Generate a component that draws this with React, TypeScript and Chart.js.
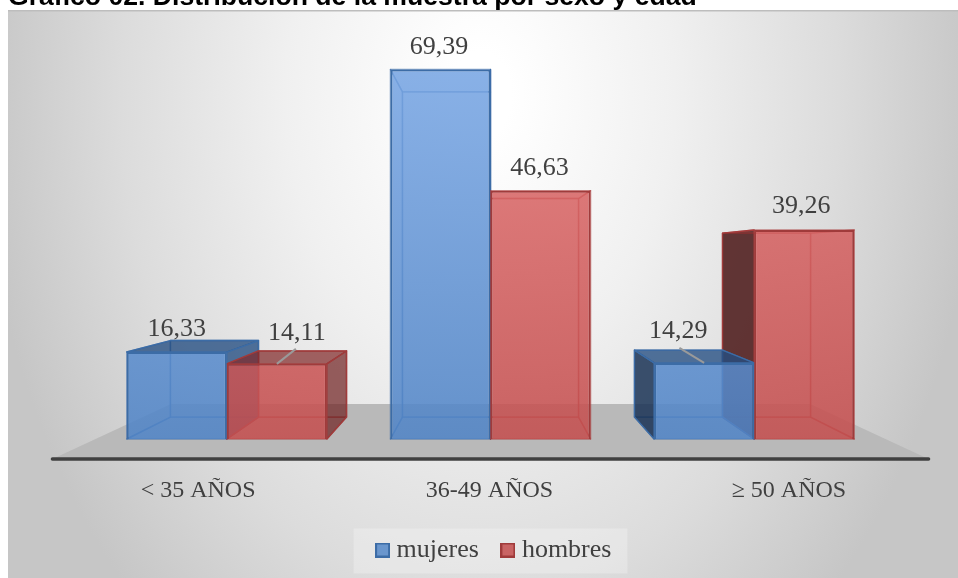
import { useEffect, useRef } from "react";
import { Chart, registerables } from "chart.js";

Chart.register(...registerables);

const categories = ["< 35 AÑOS", "36-49 AÑOS", "≥ 50 AÑOS"];
const mujeres = [16.33, 69.39, 14.29];
const hombres = [14.11, 46.63, 39.26];
const chartTitle = "Gráfico 02. Distribución de la muestra por sexo y edad";

// Label nudges (dx, dy) from the front top-centre of each bar, per series.
const mujeresLabelNudge = [[0, -23], [-1.5, -22], [-26, -32]];
const hombresLabelNudge = [[20, -31], [-1, -23], [-3, -24]];
const tickLabelNudge = [0, -1, 6];
// Bars whose label is tied back to the bar by a short leader: [series, category].
const ledBars = [[1, 0], [0, 2]];

const SERIF = '"Liberation Serif", serif';
const INK = "#404040";

// Perspective of the fake 3D boxes.
const BACK_SCALE = 0.88;
const HORIZON_VALUE = 34.3;
const FLOOR_FRONT = 1.109;
const FLOOR_BACK = 0.809;
const FLOOR_HALF_WIDTH = 395;
const LEGEND_SHIFT = 6;

const palette = {
  mujeres: {
    edge: "#3c6ca6",
    inner: "rgba(62,108,168,0.62)",
    tint: "rgba(80,130,195,0.12)",
    outerLeft: "rgba(22,46,80,0.82)",
    outerRight: "rgba(36,76,128,0.76)",
    outerTop: "rgba(36,76,128,0.76)",
    front: ["rgba(120,166,228,0.85)", "rgba(80,132,198,0.85)"],
    swatch: "#6a96cd",
  },
  hombres: {
    edge: "#a03b3b",
    inner: "rgba(170,60,60,0.6)",
    tint: "rgba(200,80,80,0.12)",
    outerLeft: "rgba(72,22,22,0.84)",
    outerRight: "rgba(105,28,28,0.66)",
    outerTop: "rgba(125,38,38,0.68)",
    front: ["rgba(226,112,112,0.85)", "rgba(196,78,78,0.85)"],
    swatch: "#c96464",
  },
};
const seriesStyles = [palette.mujeres, palette.hombres];

function verticalFill(chart: any, stops: string[]) {
  const area = chart.chartArea;
  if (!area) return stops[1];
  const g = chart.ctx.createLinearGradient(0, area.top + 55, 0, area.bottom);
  g.addColorStop(0, stops[0]);
  g.addColorStop(1, stops[1]);
  return g;
}

function makeSwatch(fill: string, edge: string) {
  const c = document.createElement("canvas");
  c.width = 15;
  c.height = 15;
  const x = c.getContext("2d")!;
  x.fillStyle = fill;
  x.fillRect(0, 0, 15, 15);
  x.strokeStyle = edge;
  x.lineWidth = 2;
  x.strokeRect(1, 1, 13, 13);
  return c;
}

function poly(ctx: CanvasRenderingContext2D, pts: number[][], fill?: string, stroke?: string, width = 1.4) {
  ctx.beginPath();
  pts.forEach(([x, y], i) => (i ? ctx.lineTo(x, y) : ctx.moveTo(x, y)));
  ctx.closePath();
  if (fill) {
    ctx.fillStyle = fill;
    ctx.fill();
  }
  if (stroke) {
    ctx.strokeStyle = stroke;
    ctx.lineWidth = width;
    ctx.lineJoin = "round";
    ctx.stroke();
  }
}

// Paints wall and floor of the scene, then the receding faces of each bar.
const scene3d = {
  id: "scene3d",
  afterLayout(chart: any) {
    // The legend sits a little right of the centre of the padded box.
    const legend = chart.legend;
    legend.left += LEGEND_SHIFT;
    legend.right += LEGEND_SHIFT;
    legend.legendHitBoxes.forEach((b: any) => {
      b.left += LEGEND_SHIFT;
    });
  },
  beforeDraw(chart: any) {
    const { ctx, width, height } = chart;
    ctx.save();
    ctx.beginPath();
    ctx.rect(8, 10, width - 8, height - 10);
    ctx.clip();
    ctx.translate(480, 95);
    ctx.scale(0.78, 1.09);
    const g = ctx.createRadialGradient(0, 0, 40, 0, 0, 640);
    g.addColorStop(0, "#ffffff");
    g.addColorStop(0.35, "#f0f0f0");
    g.addColorStop(0.7, "#dcdcdc");
    g.addColorStop(1, "#c6c6c6");
    ctx.fillStyle = g;
    ctx.fillRect(-800, -200, 1600, 700);
    ctx.restore();
    ctx.fillStyle = "#bdbdbd";
    ctx.fillRect(8, 10, width - 8, 1.5);

    // Pale panel behind the legend entries.
    const boxes = chart.legend?.legendHitBoxes;
    if (boxes?.length) {
      const left = boxes[0].left;
      const last = boxes[boxes.length - 1];
      const right = last.left + last.width;
      const cy = boxes[0].top + boxes[0].height / 2;
      ctx.fillStyle = "rgba(255,255,255,0.26)";
      ctx.fillRect(left - 28, cy - 21.5, right - left + 44, 45);
    }
  },
  beforeDatasetsDraw(chart: any) {
    const { ctx } = chart;
    const xs = chart.scales.x;
    const ys = chart.scales.y;
    const vx = xs.getPixelForTick(1);
    const vy = ys.getPixelForValue(HORIZON_VALUE);
    const base = ys.getPixelForValue(0);
    const proj = (x: number, y: number, s = BACK_SCALE) => [vx + s * (x - vx), vy + s * (y - vy)];

    const fy = vy + FLOOR_FRONT * (base - vy);
    const by = vy + FLOOR_BACK * (base - vy);
    ctx.save();
    poly(ctx, [
      [vx - FLOOR_BACK * FLOOR_HALF_WIDTH, by],
      [vx + FLOOR_BACK * FLOOR_HALF_WIDTH, by],
      [vx + FLOOR_FRONT * FLOOR_HALF_WIDTH, fy],
      [vx - FLOOR_FRONT * FLOOR_HALF_WIDTH, fy],
    ], "#b9b9b9");

    ctx.strokeStyle = "#404040";
    ctx.lineWidth = 3.5;
    ctx.lineCap = "round";
    ctx.beginPath();
    ctx.moveTo(vx - FLOOR_FRONT * FLOOR_HALF_WIDTH, fy);
    ctx.lineTo(vx + FLOOR_FRONT * FLOOR_HALF_WIDTH, fy);
    ctx.stroke();

    categories.forEach((_, c) => {
      const boxes = [0, 1]
        .map((d) => ({ d, el: chart.getDatasetMeta(d).data[c] }))
        .sort((a, b) => Math.abs(b.el.x - vx) - Math.abs(a.el.x - vx));
      boxes.forEach(({ d, el }) => {
        const st = seriesStyles[d];
        const half = el.width / 2;
        const x0 = el.x - half;
        const x1 = el.x + half;
        const top = el.y;
        const ftl = [x0, top], ftr = [x1, top], fbl = [x0, base], fbr = [x1, base];
        const btl = proj(x0, top), btr = proj(x1, top), bbl = proj(x0, base), bbr = proj(x1, base);
        poly(ctx, [btl, btr, bbr, bbl], st.tint, st.inner);
        poly(ctx, [fbl, fbr, bbr, bbl], st.tint, st.inner);
        const leftOuter = x0 >= vx - 1;
        const rightOuter = x1 <= vx + 1;
        const topOuter = top > vy;
        poly(ctx, [ftl, btl, bbl, fbl], leftOuter ? st.outerLeft : st.tint, leftOuter ? st.edge : st.inner);
        poly(ctx, [ftr, btr, bbr, fbr], rightOuter ? st.outerRight : st.tint, rightOuter ? st.edge : st.inner);
        poly(ctx, [ftl, ftr, btr, btl], topOuter ? st.outerTop : st.tint, topOuter ? st.edge : st.inner);
      });
    });
    ctx.restore();
  },
  afterDatasetsDraw(chart: any) {
    const { ctx } = chart;
    const xs = chart.scales.x;
    const ys = chart.scales.y;
    const vx = xs.getPixelForTick(1);
    const vy = ys.getPixelForValue(HORIZON_VALUE);
    const base = ys.getPixelForValue(0);
    ctx.save();
    ctx.fillStyle = INK;
    ctx.textAlign = "center";
    ctx.textBaseline = "middle";

    ledBars.forEach(([d, c]) => {
      const el = chart.getDatasetMeta(d).data[c];
      const nudge = d === 0 ? mujeresLabelNudge[c] : hombresLabelNudge[c];
      ctx.strokeStyle = "#9a9a9a";
      ctx.lineWidth = 2;
      ctx.beginPath();
      ctx.moveTo(el.x + nudge[0] * 0.95, el.y - 15);
      ctx.lineTo(el.x, el.y);
      ctx.stroke();
    });

    ctx.font = `26px ${SERIF}`;
    [mujeres, hombres].forEach((vals, d) => {
      const nudges = d === 0 ? mujeresLabelNudge : hombresLabelNudge;
      vals.forEach((v, c) => {
        const el = chart.getDatasetMeta(d).data[c];
        ctx.fillText(v.toFixed(2).replace(".", ","), el.x + nudges[c][0], el.y + nudges[c][1]);
      });
    });

    ctx.font = `24px ${SERIF}`;
    categories.forEach((label, i) => {
      const x = vx + FLOOR_FRONT * (xs.getPixelForTick(i) - vx) + tickLabelNudge[i];
      const y = vy + FLOOR_FRONT * (base - vy) + 32;
      ctx.fillText(label, x, y);
    });
    ctx.restore();
  },
};

export default function App() {
  const ref = useRef<HTMLCanvasElement | null>(null);

  useEffect(() => {
    const swatches = seriesStyles.map((s) => makeSwatch(s.swatch, s.edge));
    const chart = new Chart(ref.current!, {
      type: "bar",
      data: {
        labels: categories,
        datasets: [
          {
            label: "mujeres",
            data: mujeres,
            backgroundColor: (c: any) => verticalFill(c.chart, palette.mujeres.front),
            borderColor: palette.mujeres.edge,
            borderWidth: 2,
          },
          {
            label: "hombres",
            data: hombres,
            backgroundColor: (c: any) => verticalFill(c.chart, palette.hombres.front),
            borderColor: palette.hombres.edge,
            borderWidth: 2,
          },
        ],
      },
      options: {
        animation: false,
        responsive: false,
        layout: { padding: { left: 95, right: 72, top: 13, bottom: 5 } },
        categoryPercentage: 0.759,
        barPercentage: 1,
        scales: {
          x: {
            grid: { display: false },
            border: { display: false },
            ticks: { display: false },
            afterFit: (s: any) => {
              s.height = 70;
            },
          },
          y: { display: false, min: 0, max: 80 },
        },
        plugins: {
          title: { display: false },
          tooltip: { enabled: false },
          legend: {
            position: "bottom",
            labels: {
              usePointStyle: true,
              pointStyleWidth: 2,
              padding: 28,
              color: INK,
              font: { family: SERIF, size: 26 },
              generateLabels: (ch: any) =>
                ch.data.datasets.map((ds: any, i: number) => ({
                  text: ds.label,
                  pointStyle: swatches[i],
                  datasetIndex: i,
                  fontColor: INK,
                  hidden: false,
                  lineWidth: 0,
                })),
            },
          },
        },
      } as any,
      plugins: [scene3d as any],
    });
    return () => chart.destroy();
  }, []);

  return (
    <div style={{ position: "fixed", inset: 0, overflow: "hidden" }}>
      <canvas ref={ref} width={958} height={578} style={{ display: "block" }} />
      <div
        style={{
          position: "absolute",
          left: 8,
          top: -19,
          font: 'bold 26.6px/30px "Liberation Sans", Arial, sans-serif',
          color: "#000",
          whiteSpace: "nowrap",
        }}
      >
        {chartTitle}
      </div>
    </div>
  );
}
